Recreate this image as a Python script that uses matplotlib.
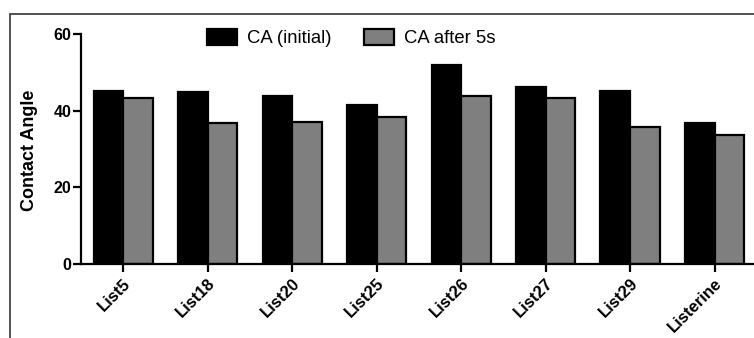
import matplotlib
matplotlib.use("Agg")
import matplotlib.pyplot as plt
from matplotlib.patches import Rectangle
import numpy as np

plt.rcParams['font.family'] = ['Liberation Sans', 'DejaVu Sans']

categories = ["List5", "List18", "List20", "List25", "List26", "List27", "List29", "Listerine"]
ca_initial = [45.2, 44.9, 43.8, 41.5, 51.8, 46.3, 45.2, 36.9]
ca_after_5s = [43.3, 36.9, 37.0, 38.3, 43.7, 43.3, 35.7, 33.7]
series_labels = ["CA (initial)", "CA after 5s"]
y_ticks = [0, 20, 40, 60]

W, H = 754, 338
fig = plt.figure(figsize=(W / 100, H / 100), dpi=100)

# outer frame around the figure panel
fig.patches.append(Rectangle((10 / W, -0.2), 1.2, 1 - 14 / H + 0.2,
                             transform=fig.transFigure, fill=False,
                             edgecolor='#333333', linewidth=1.2))

ax_left, ax_right = 81 / W, 756.75 / W
ax_bottom, ax_top = 1 - 264 / H, 1 - 34 / H
ax = fig.add_axes([ax_left, ax_bottom, ax_right - ax_left, ax_top - ax_bottom])
ax.patch.set_alpha(0)

x = np.arange(len(categories))
bw = 0.35
ax.bar(x - bw / 2, ca_initial, bw, color='black', edgecolor='black',
       linewidth=1.6, label=series_labels[0], zorder=2)
ax.bar(x + bw / 2, ca_after_5s, bw, color='#7f7f7f', edgecolor='black',
       linewidth=1.6, label=series_labels[1], zorder=2)

ax.set_xlim(-0.5, len(categories) - 0.5)
ax.set_ylim(0, 60)
ax.set_yticks(y_ticks)
ax.set_xticks(x)
ax.set_xticklabels(categories, rotation=45, ha='right', va='top',
                   rotation_mode='anchor', fontsize=12, fontweight='bold')
for lbl in ax.get_yticklabels():
    lbl.set_fontsize(11.5)
    lbl.set_fontweight('bold')

for s in ('top', 'right'):
    ax.spines[s].set_visible(False)
for s in ('left', 'bottom'):
    ax.spines[s].set_linewidth(1.6)
ax.tick_params(axis='both', length=6, width=1.6, direction='out')
ax.tick_params(axis='y', pad=1)
ax.tick_params(axis='x', pad=2.5)

fig.text(30 / W, 1 - 150 / H, "Contact Angle", rotation=90, ha='center',
         va='center', fontsize=13, fontweight='bold')

fig.legend(loc='center left', bbox_to_anchor=(207 / W, 1 - 38 / H),
           bbox_transform=fig.transFigure, ncol=2, frameon=False,
           fontsize=13.3, handlelength=1.63, handleheight=1.0,
           handletextpad=0.55, columnspacing=1.75, borderpad=0,
           borderaxespad=0)

fig.savefig("out.png", dpi=100)
